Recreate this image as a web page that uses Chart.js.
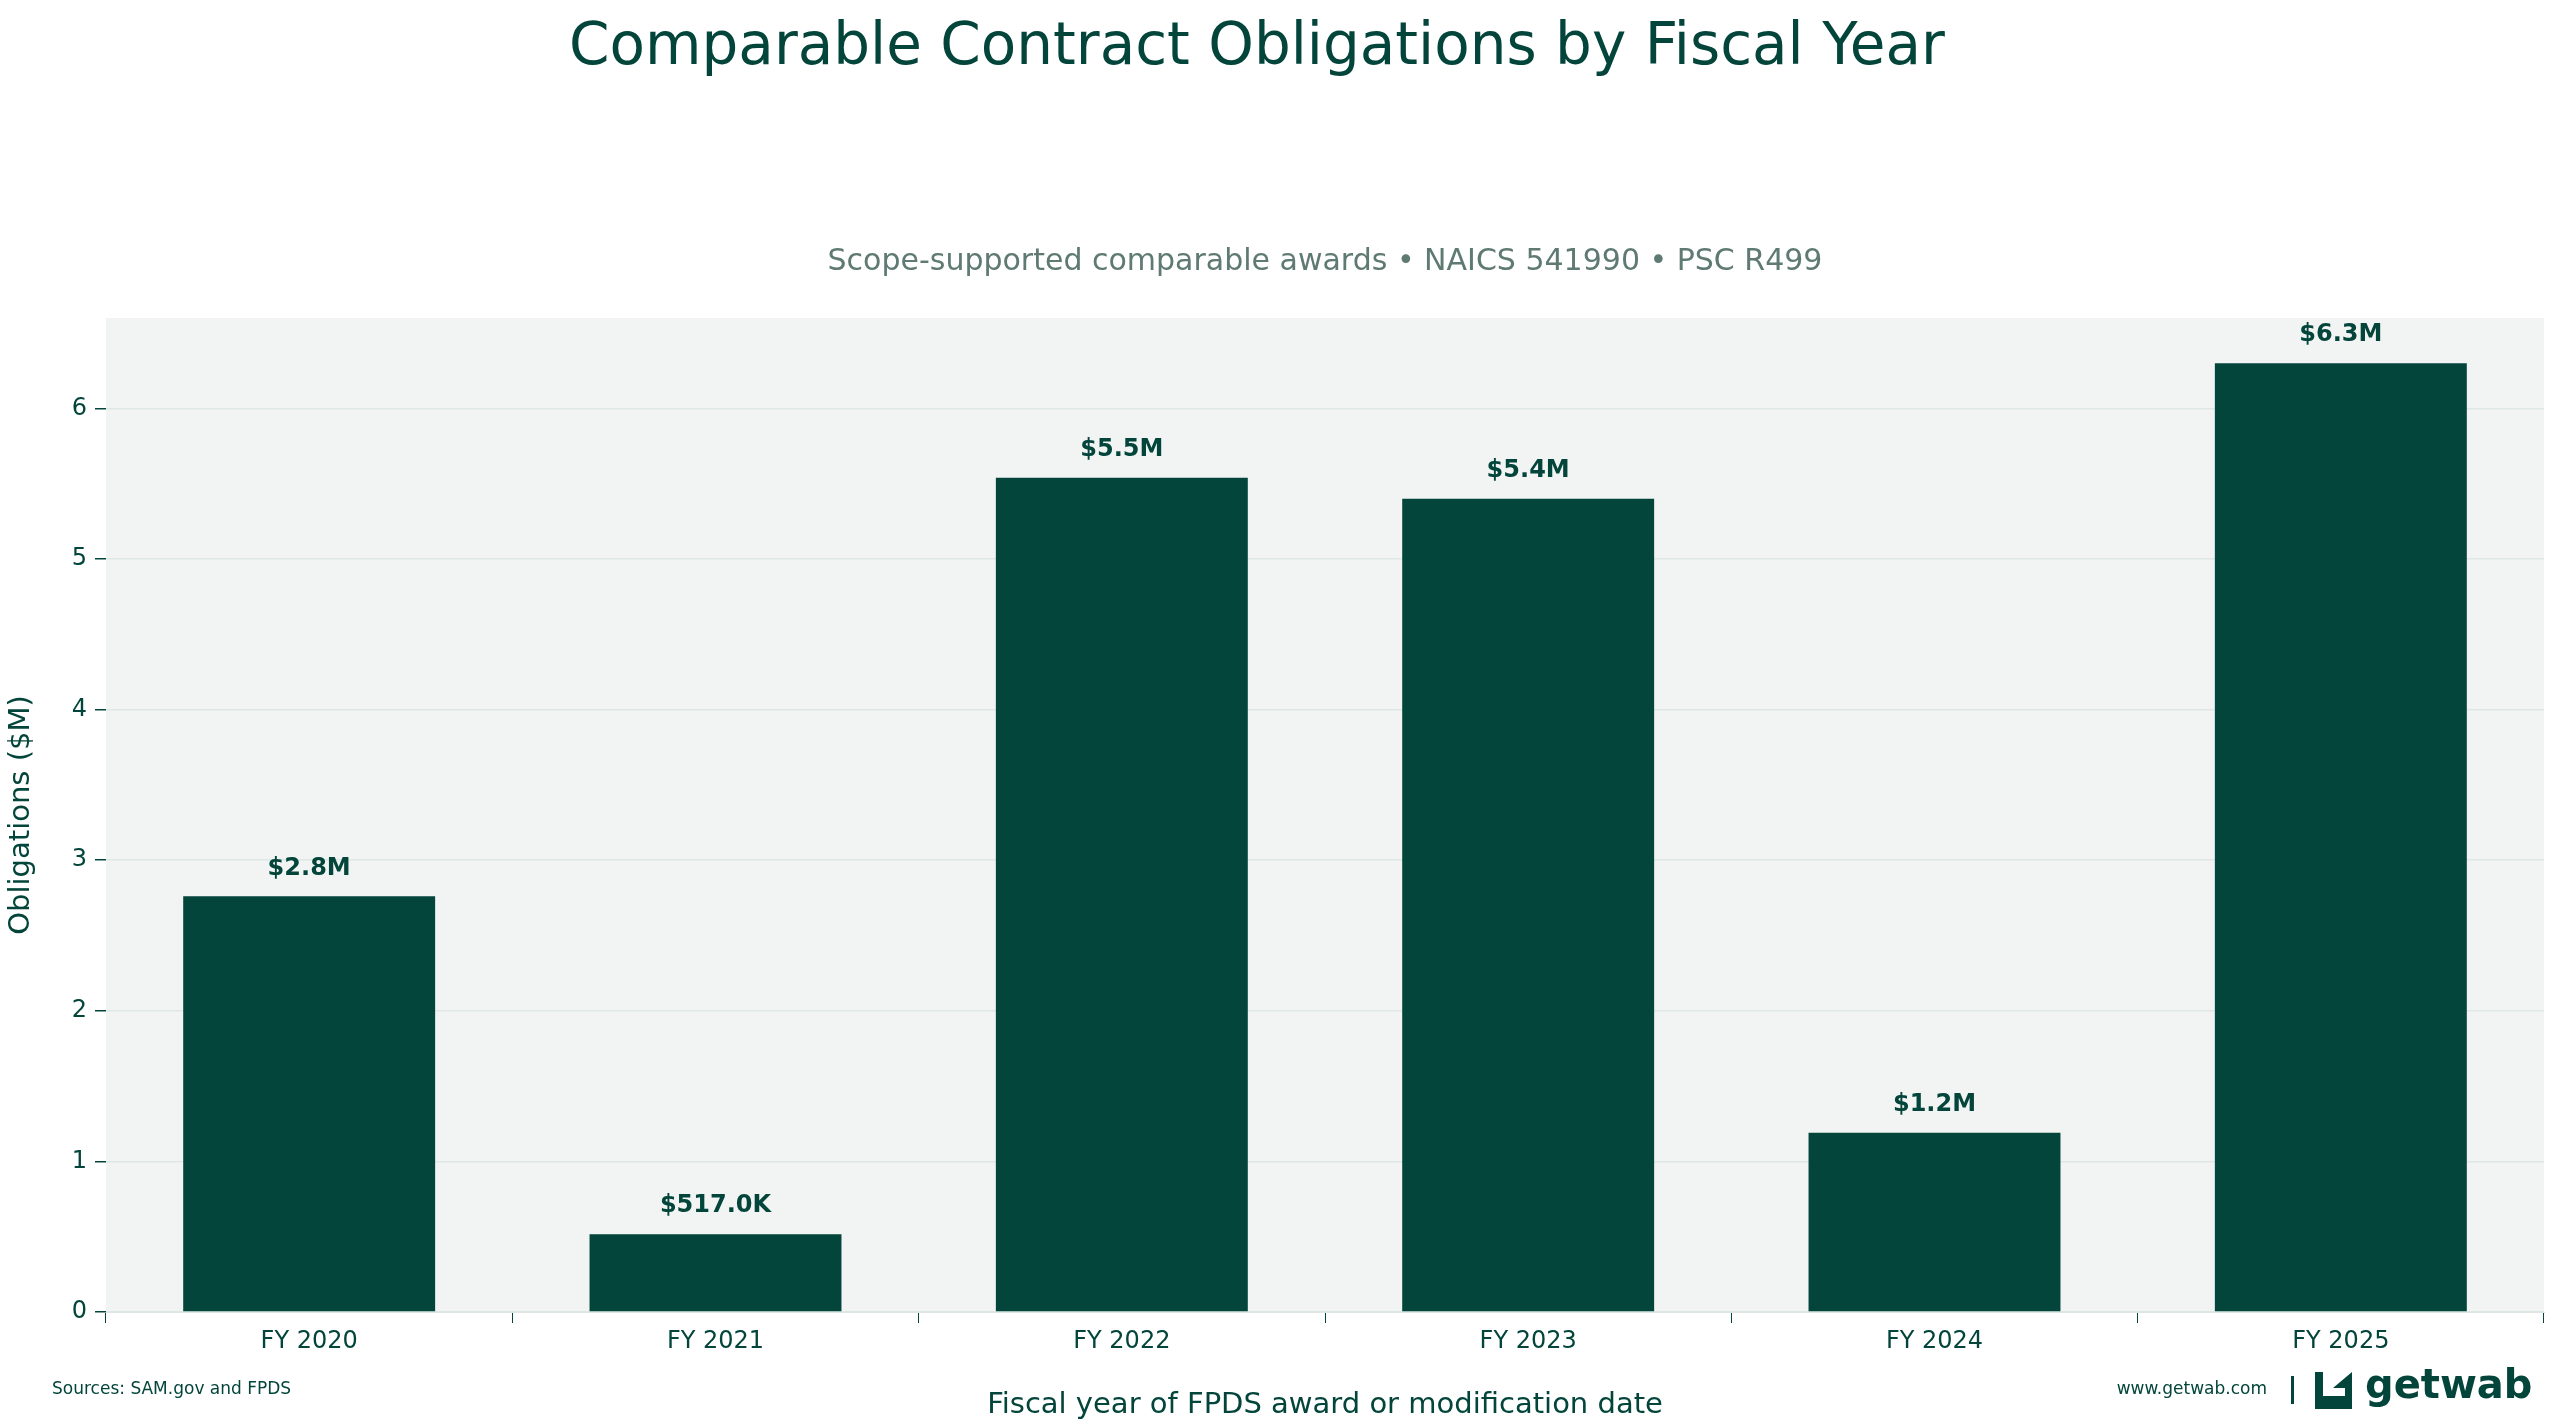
<!DOCTYPE html>
<html><head><meta charset="utf-8">
<script src="https://cdn.jsdelivr.net/npm/chart.js@4"></script>
<style>html,body{margin:0;padding:0;background:#fff}#w{width:2565px;height:1427px;position:relative}</style>
</head><body><div id="w"><canvas id="c"></canvas></div>
<script>
const categories = ["FY 2020","FY 2021","FY 2022","FY 2023","FY 2024","FY 2025"];
const obligations = [2.76, 0.517, 5.54, 5.40, 1.19, 6.30];
const valueLabels = ["$2.8M","$517.0K","$5.5M","$5.4M","$1.2M","$6.3M"];
const DARK = "#03453a";
const FONT = "'DejaVu Sans', sans-serif";

const deco = {
  id: 'deco',
  beforeDraw(chart) {
    const {ctx, chartArea:a} = chart;
    ctx.save(); ctx.fillStyle = "#f1f4f3";
    ctx.fillRect(a.left, a.top, a.right-a.left, a.bottom-a.top); ctx.restore();
  },
  afterDatasetsDraw(chart) {
    const {ctx} = chart;
    const meta = chart.getDatasetMeta(0);
    ctx.save();
    ctx.fillStyle = DARK; ctx.font = "bold 24px " + FONT;
    ctx.textAlign = "center"; ctx.textBaseline = "bottom";
    meta.data.forEach((b,i) => ctx.fillText(valueLabels[i], b.x, b.y - 16));
    ctx.restore();
  },
  afterDraw(chart) {
    const {ctx, chartArea:a} = chart;
    ctx.save();
    ctx.fillStyle = DARK; ctx.textAlign = "center"; ctx.textBaseline = "middle";
    ctx.font = "58px " + FONT;
    ctx.fillText("Comparable Contract Obligations by Fiscal Year", 1257, 49);
    ctx.fillStyle = "#5f7a73"; ctx.font = "30px " + FONT;
    ctx.fillText("Scope-supported comparable awards • NAICS 541990 • PSC R499", (a.left+a.right)/2, 262);
    ctx.fillStyle = DARK; ctx.font = "17px " + FONT; ctx.textAlign = "left";
    ctx.fillText("Sources: SAM.gov and FPDS", 52, 1390);
    ctx.textAlign = "right";
    ctx.fillText("www.getwab.com", 2267, 1390);
    ctx.fillRect(2291, 1376, 3, 28);
    // logo mark
    ctx.fillRect(2315, 1372, 37, 37);
    ctx.fillStyle = "#fff";
    ctx.beginPath(); ctx.moveTo(2323,1372); ctx.lineTo(2323,1396); ctx.lineTo(2345,1396); ctx.lineTo(2345,1388); ctx.lineTo(2333,1388); ctx.lineTo(2352,1372); ctx.closePath(); ctx.fill();
    ctx.fillStyle = DARK; ctx.textAlign = "left"; ctx.font = "bold 40px " + FONT;
    ctx.fillText("getwab", 2365, 1388);
    ctx.restore();
  }
};

new Chart(document.getElementById('c'), {
  type: 'bar',
  data: { labels: categories, datasets: [{ data: obligations, backgroundColor: DARK, barPercentage: 0.62, categoryPercentage: 1 }] },
  options: {
    responsive: true, maintainAspectRatio: false, animation: false,
    devicePixelRatio: 1,
    layout: { padding: { left: 0, right: 21, top: 318, bottom: 0 } },
    plugins: { legend: { display: false }, tooltip: { enabled: false } },
    scales: {
      x: {
        afterFit(s){ s.height = 115; },
        grid: { display: true, drawOnChartArea: false, tickLength: 11, color: DARK, tickColor: DARK },
        border: { display: true, color: "#dde6e3" },
        ticks: { color: DARK, font: { size: 24, family: FONT }, padding: 4 },
        title: { display: true, text: "Fiscal year of FPDS award or modification date", color: DARK, font: { size: 29, family: FONT }, padding: { top: 6 } }
      },
      y: {
        min: 0, max: 6.6,
        afterFit(s){ s.width = 106; },
        afterBuildTicks(s){ s.ticks = [0,1,2,3,4,5,6].map(v=>({value:v})); },
        grid: { color: "#dde8e4", lineWidth: 1.5, tickLength: 11, tickColor: DARK },
        border: { display: false },
        ticks: { color: DARK, font: { size: 24, family: FONT }, padding: 8 },
        title: { display: true, text: "Obligations ($M)", color: DARK, font: { size: 29, family: FONT }, padding: { bottom: 8 } }
      }
    }
  },
  plugins: [deco]
});
</script></body></html>
